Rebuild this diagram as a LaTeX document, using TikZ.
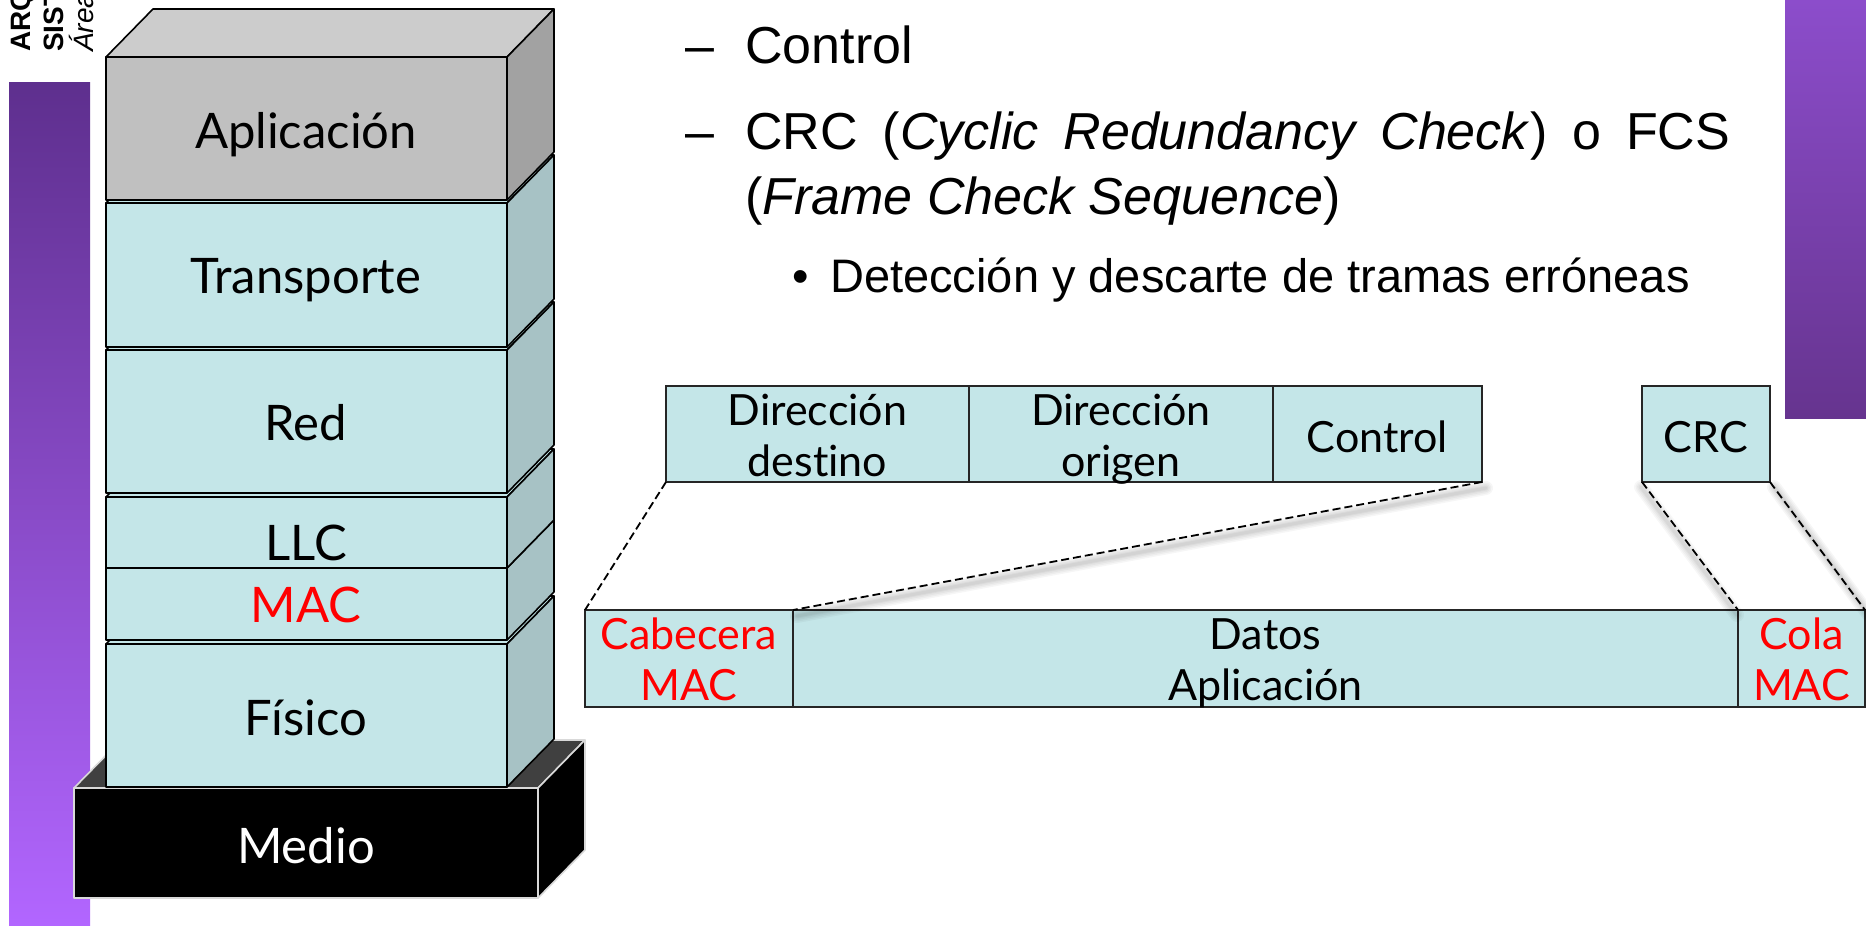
\documentclass[tikz,border=0pt]{standalone}
\usepackage{fontspec}
\setmainfont{Liberation Sans}
\newfontfamily\lab[Ligatures=NoCommon]{Lato}
\usetikzlibrary{calc}
\definecolor{tealF}{HTML}{C4E6E8}
\definecolor{tealS}{HTML}{A7C2C5}
\definecolor{grayF}{HTML}{C0C0C0}
\definecolor{grayT}{HTML}{CCCCCC}
\definecolor{grayS}{HTML}{A2A2A2}
\definecolor{darkT}{HTML}{404040}
\definecolor{purpA}{HTML}{5E2F8E}
\definecolor{purpB}{HTML}{B266FF}
\definecolor{purpC}{HTML}{8C4DCB}
\definecolor{purpD}{HTML}{66348F}
\newcommand\stacklayer[5]{%
  \filldraw[face,fill=#4] (106,#1) -- (507,#1) -- (554,#1-48) -- (153,#1-48) -- cycle;
  \filldraw[face,fill=#5] (507,#1) -- (554,#1-48) -- (554,#2-48) -- (507,#2) -- cycle;
  \filldraw[face,fill=#3] (106,#1) rectangle (507,#2);
}
\begin{document}
\begin{tikzpicture}[x=1pt,y=-1pt,
  face/.style={draw=black,line width=1.6pt,line join=round},
  medioface/.style={draw=white!85!black,line width=1.6pt,line join=round},
  fbox/.style={draw=black!85,line width=1.6pt,fill=tealF,inner sep=0pt,outer sep=0pt},
  lbl/.style={inner sep=0pt,anchor=base,font=\lab\fontsize{49}{49}\selectfont},
  flbl/.style={inner sep=0pt,anchor=base,font=\lab\fontsize{43}{43}\selectfont},
  txt/.style={inner sep=0pt,anchor=base west,font=\fontsize{52}{52}\selectfont},
  subtxt/.style={inner sep=0pt,anchor=base west,font=\fontsize{47}{47}\selectfont},
  side/.style={inner sep=0pt,anchor=base west,rotate=90,font=\fontsize{28}{28}\selectfont},
  zoomline/.style={dash pattern=on 8pt off 4pt,line width=1.8pt},
  shade line/.style={black,line cap=round}
]
\fill[white] (0,0) rectangle (1866,926);
\path[use as bounding box] (0,0) rectangle (1866,926);

% side bars
\shade[top color=purpA,bottom color=purpB] (9,82) rectangle (90,926);
\shade[top color=purpC,bottom color=purpD] (1785,0) rectangle (1866,418);
\node[side,font=\bfseries\fontsize{28}{28}\selectfont] (s1) at (30,52) {ARQ};
\node[side,font=\bfseries\fontsize{28}{28}\selectfont] (s2) at (63,52) {SIST};
\node[side,font=\itshape\fontsize{28}{28}\selectfont] (s3) at (93,52) {Área};

% Medio
\filldraw[medioface,fill=darkT] (74,788) -- (538,788) -- (585,740) -- (121,740) -- cycle;
\filldraw[medioface,fill=black] (538,788) -- (585,740) -- (585,850) -- (538,898) -- cycle;
\filldraw[medioface,fill=black] (74,788) rectangle (538,898);

% stack layers, bottom first
\stacklayer{644}{787}{tealF}{tealF}{tealS}
\stacklayer{568}{640}{tealF}{tealF}{tealS}
\stacklayer{497}{568}{tealF}{tealF}{tealS}
\stacklayer{350}{493}{tealF}{tealF}{tealS}
\stacklayer{203}{347}{tealF}{tealF}{tealS}
\stacklayer{57}{200}{grayF}{grayT}{grayS}

\node[lbl] (lapp) at (306,148) {Aplicación};
\node[lbl] (ltra) at (306,293) {Transporte};
\node[lbl] (lred) at (306,440) {Red};
\node[lbl] (lllc) at (306,560) {LLC};
\node[lbl,text=red] (lmac) at (306,622) {MAC};
\node[lbl] (lfis) at (306,735) {Físico};
\node[lbl,text=white] (lmed) at (306,863) {Medio};

% bullet text
\node[txt] (d1) at (685,63) {–};
\node[txt] (t1) at (745,63) {Control};
\node[txt] (d2) at (685,149) {–};
\node[txt] (t2) at (745,149) {\makebox[985pt][s]{CRC (\textit{Cyclic Redundancy Check}) o FCS}};
\node[txt] (t3) at (745,214) {(\textit{Frame Check Sequence})};
\node[subtxt] (b4) at (792,292) {•};
\node[subtxt] (t4) at (830,292) {Detección y descarte de tramas erróneas};

% frame boxes
\node[fbox,minimum width=303pt,minimum height=96pt] (dd) at (817.5,434) {};
\node[fbox,minimum width=304pt,minimum height=96pt] (do) at (1121,434) {};
\node[fbox,minimum width=209pt,minimum height=96pt] (ctl) at (1377.5,434) {};
\node[fbox,minimum width=128pt,minimum height=96pt] (crc) at (1706,434) {};
\node[fbox,minimum width=208pt,minimum height=97pt] (cab) at (689,658.5) {};
\node[fbox,minimum width=945pt,minimum height=97pt] (dat) at (1265.5,658.5) {};
\node[fbox,minimum width=127pt,minimum height=97pt] (cola) at (1801.5,658.5) {};

\node[flbl] (dd1) at (817.5,425) {Dirección};
\node[flbl] (dd2) at (817.5,476) {destino};
\node[flbl] (do1) at (1121,425) {Dirección};
\node[flbl] (do2) at (1121,476) {origen};
\node[flbl] (ctlt) at (1377.5,452) {Control};
\node[flbl] (crct) at (1706,452) {CRC};
\node[flbl,text=red] (cab1) at (689,649) {Cabecera};
\node[flbl,text=red] (cab2) at (689,700) {MAC};
\node[flbl] (dat1) at (1265.5,649) {Datos};
\node[flbl] (dat2) at (1265.5,700) {Aplicación};
\node[flbl,text=red] (col1) at (1801.5,649) {Cola};
\node[flbl,text=red] (col2) at (1801.5,700) {MAC};

% soft shadows of zoom lines
\foreach \w in {14,11,8,5,3}{
  \draw[shade line,line width=\w pt,opacity=0.035] ($(ctl.south east)+(4,6)$) -- ($(cab.north east)+(4,6)$);
  \draw[shade line,line width=\w pt,opacity=0.03] ($(crc.south west)+(-1,5)$) -- ($(cola.north west)+(-1,5)$);
  \draw[shade line,line width=\w pt,opacity=0.035] ($(crc.south east)+(4,5)$) -- ($(cola.north east)+(4,5)$);
}
% zoom lines
\draw[zoomline] (dd.south west) -- (cab.north west);
\draw[zoomline] (ctl.south east) -- (cab.north east);
\draw[zoomline] (crc.south west) -- (cola.north west);
\draw[zoomline] (crc.south east) -- (cola.north east);
\end{tikzpicture}
\end{document}
